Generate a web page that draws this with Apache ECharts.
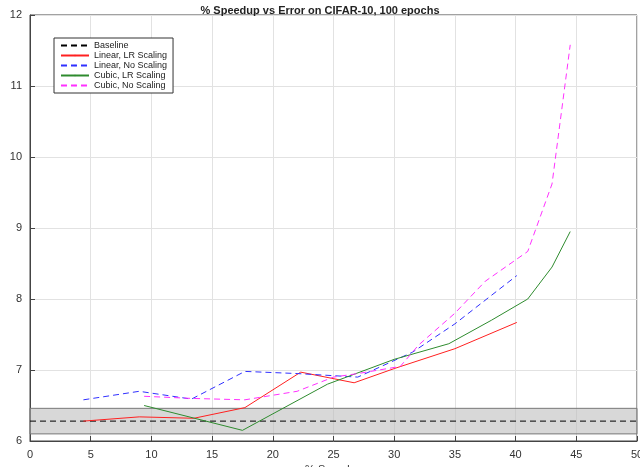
<!DOCTYPE html>
<html>
<head>
<meta charset="UTF-8">
<script src="https://cdn.jsdelivr.net/npm/echarts@6/dist/echarts.min.js"></script>
<style>*{margin:0;padding:0}html,body{width:640px;height:467px;background:#fff}#main{width:640px;height:467px}</style>
</head>
<body>
<div id="main"></div>
<script>
var baseline = 6.28;
var bandLow = 6.1, bandHigh = 6.46;
var linLR = [[4.4,6.28],[9,6.34],[13.5,6.32],[17.7,6.47],[22.3,6.97],[26.7,6.82],[30,7.02],[35,7.3],[40.1,7.67]];
var linNo = [[4.4,6.58],[9,6.7],[13.3,6.59],[17.7,6.98],[22,6.95],[27,6.9],[31.5,7.25],[35,7.65],[40.1,8.33]];
var cubLR = [[9.4,6.5],[17.5,6.15],[24.5,6.8],[30,7.15],[34.5,7.37],[38,7.7],[41,8.0],[43,8.45],[44.5,8.95]];
var cubNo = [[9.4,6.63],[13.3,6.6],[17.7,6.58],[22,6.7],[25,6.9],[27,6.95],[30.5,7.05],[32,7.35],[35,7.8],[37.5,8.25],[41,8.67],[43,9.62],[44.5,11.58]];

var chart = echarts.init(document.getElementById('main'));
var ax = {
    axisLine: {show: true, onZero: false, lineStyle: {color: '#444'}},
    axisTick: {show: true, inside: true, lineStyle: {color: '#444'}},
    axisLabel: {color: '#333', fontSize: 11, fontFamily: 'Liberation Sans'},
    splitLine: {show: true, lineStyle: {color: '#e2e2e2'}}
};
chart.setOption({
    animation: false,
    title: {text: '% Speedup vs Error on CIFAR-10, 100 epochs', left: 'center', top: 0,
        textStyle: {fontSize: 11, fontWeight: 'bold', color: '#222', fontFamily: 'Liberation Sans'}},
    legend: {orient: 'vertical', left: 54, top: 38, itemWidth: 28, itemHeight: 2, itemGap: 1,
        backgroundColor: '#fff', borderColor: '#333', borderWidth: 1, padding: [3, 6],
        textStyle: {fontSize: 9, color: '#222', fontFamily: 'Liberation Sans'},
        data: ['Baseline', 'Linear, LR Scaling', 'Linear, No Scaling', 'Cubic, LR Scaling', 'Cubic, No Scaling']},
    grid: {left: 30, right: 3, top: 15, bottom: 26, containLabel: false, outerBoundsMode: 'none',
        show: true, borderColor: '#444', borderWidth: 1},
    xAxis: Object.assign({type: 'value', min: 0, max: 50, interval: 5, name: '% Speedup',
        nameLocation: 'middle', nameGap: 15, nameTextStyle: {fontSize: 11, color: '#333'}}, ax),
    yAxis: Object.assign({type: 'value', min: 6, max: 12, interval: 1, name: '% Error',
        nameLocation: 'middle', nameGap: 18, nameTextStyle: {fontSize: 11, color: '#333'}}, ax),
    series: [
        {name: 'Baseline', type: 'line', symbol: 'none', color: '#000',
         lineStyle: {color: '#000', width: 1, type: [6, 4]},
         data: [[0, baseline], [50, baseline]],
         markArea: {silent: true, itemStyle: {color: 'rgba(190,190,190,0.6)', borderColor: '#777', borderWidth: 1},
             data: [[{yAxis: bandLow, xAxis: 0}, {yAxis: bandHigh, xAxis: 50}]]}},
        {name: 'Linear, LR Scaling', type: 'line', symbol: 'none', color: '#ff2020',
         lineStyle: {width: 1}, data: linLR},
        {name: 'Linear, No Scaling', type: 'line', symbol: 'none', color: '#3030ff',
         lineStyle: {width: 1, type: [6, 4]}, data: linNo},
        {name: 'Cubic, LR Scaling', type: 'line', symbol: 'none', color: '#2e8b2e',
         lineStyle: {width: 1}, data: cubLR},
        {name: 'Cubic, No Scaling', type: 'line', symbol: 'none', color: '#ff30ff',
         lineStyle: {width: 1, type: [6, 4]}, data: cubNo}
    ]
});
</script>
</body>
</html>
